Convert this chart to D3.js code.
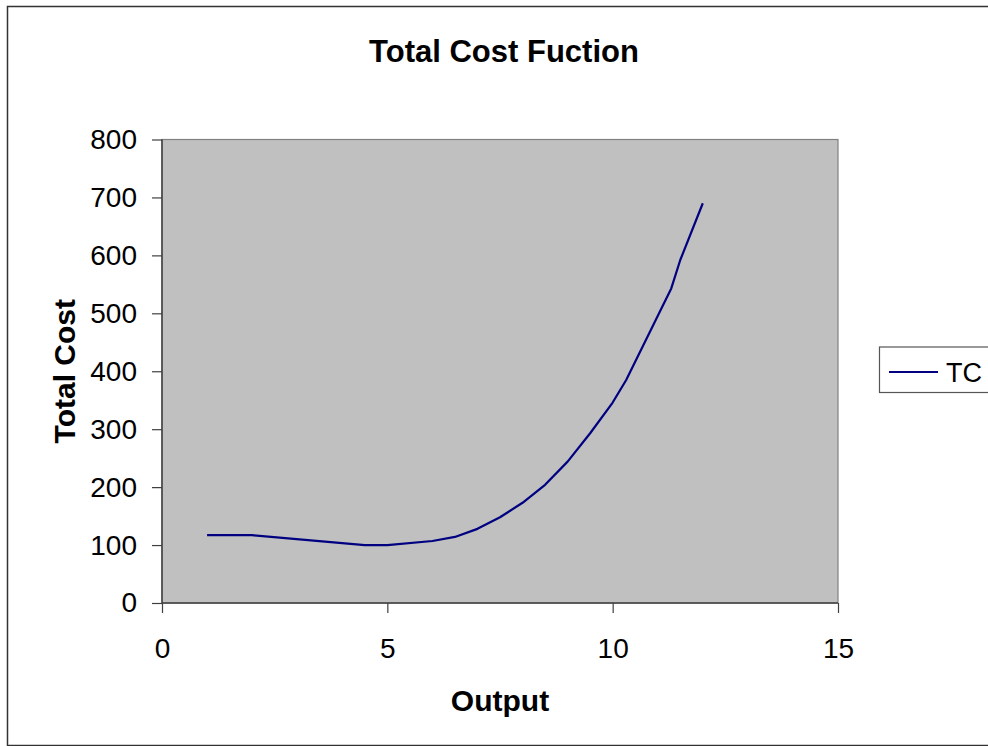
<!DOCTYPE html>
<html>
<head>
<meta charset="utf-8">
<script src="https://cdn.jsdelivr.net/npm/d3@7"></script>
<style>
  html, body { margin: 0; padding: 0; background: #fff; }
  svg { display: block; font-family: Arial, 'Liberation Sans', sans-serif; }
</style>
</head>
<body>
<div id="chart"></div>
<script>
const output = [1, 2, 4.5, 5, 6, 6.5, 7, 7.5, 8, 8.5, 9, 9.5, 10, 10.3, 11.3, 11.5, 12]
const totalCost = [117, 117, 100, 100, 107, 114, 128, 148, 173, 204, 244, 293, 346, 385, 543, 592, 690]
const xTicks = [0, 5, 10, 15]
const yTicks = [0, 100, 200, 300, 400, 500, 600, 700, 800]
const seriesName = 'TC'

const width = 988
const height = 746
const plot = { left: 162, top: 139.5, right: 838, bottom: 603 }

const svg = d3.select('#chart').append('svg').attr('width', width).attr('height', height)

// chart frame
svg.append('rect')
  .attr('x', 7.5).attr('y', 6.5)
  .attr('width', 1000).attr('height', 739)
  .attr('fill', '#fff').attr('stroke', '#333').attr('stroke-width', 1.5)

const x = d3.scaleLinear().domain([0, 15]).range([plot.left, plot.right])
const y = d3.scaleLinear().domain([0, 800]).range([plot.bottom, plot.top])

svg.append('rect')
  .attr('x', plot.left).attr('y', plot.top)
  .attr('width', plot.right - plot.left).attr('height', plot.bottom - plot.top)
  .attr('fill', '#c0c0c0').attr('stroke', '#808080').attr('stroke-width', 1.2)

const xAxisG = svg.append('g')
  .attr('transform', `translate(0,${plot.bottom})`)
  .call(d3.axisBottom(x).tickValues(xTicks).tickSize(10).tickPadding(25).tickFormat(d3.format('d')))
const yAxisG = svg.append('g')
  .attr('transform', `translate(${plot.left},0)`)
  .call(d3.axisLeft(y).tickValues(yTicks).tickSize(10).tickPadding(15).tickFormat(d3.format('d')))

for (const g of [xAxisG, yAxisG]) {
  g.select('.domain').attr('stroke', '#404040').attr('stroke-width', 1.5)
  g.selectAll('.tick line').attr('stroke', '#404040').attr('stroke-width', 1.2)
  g.selectAll('.tick text').attr('font-family', 'Arial, "Liberation Sans", sans-serif').attr('font-size', 28).attr('fill', '#000')
}
xAxisG.select('.domain').attr('d', `M${plot.left},0H${plot.right}`)
yAxisG.select('.domain').attr('d', `M0,${plot.top}V${plot.bottom}`)

const line = d3.line()
  .x((d, i) => x(output[i]))
  .y((d) => y(d))

svg.append('path')
  .datum(totalCost)
  .attr('fill', 'none')
  .attr('stroke', '#000080')
  .attr('stroke-width', 2.2)
  .attr('stroke-linejoin', 'round')
  .attr('d', line)

// titles
svg.append('text')
  .attr('x', 504).attr('y', 62)
  .attr('text-anchor', 'middle')
  .attr('font-size', 31).attr('font-weight', 'bold')
  .text('Total Cost Fuction')

svg.append('text')
  .attr('x', (plot.left + plot.right) / 2).attr('y', 711)
  .attr('text-anchor', 'middle')
  .attr('font-size', 30).attr('font-weight', 'bold')
  .text('Output')

svg.append('text')
  .attr('transform', `translate(75,${(plot.top + plot.bottom) / 2}) rotate(-90)`)
  .attr('text-anchor', 'middle')
  .attr('font-size', 30).attr('font-weight', 'bold')
  .text('Total Cost')

// legend
const legend = svg.append('g')
legend.append('rect')
  .attr('x', 879.5).attr('y', 347)
  .attr('width', 120).attr('height', 45.5)
  .attr('fill', '#fff').attr('stroke', '#555').attr('stroke-width', 1.2)
legend.append('line')
  .attr('x1', 889).attr('x2', 938)
  .attr('y1', 372).attr('y2', 372)
  .attr('stroke', '#000080').attr('stroke-width', 2.2)
legend.append('text')
  .attr('x', 946).attr('y', 382)
  .attr('font-size', 27)
  .text(seriesName)
</script>
</body>
</html>
